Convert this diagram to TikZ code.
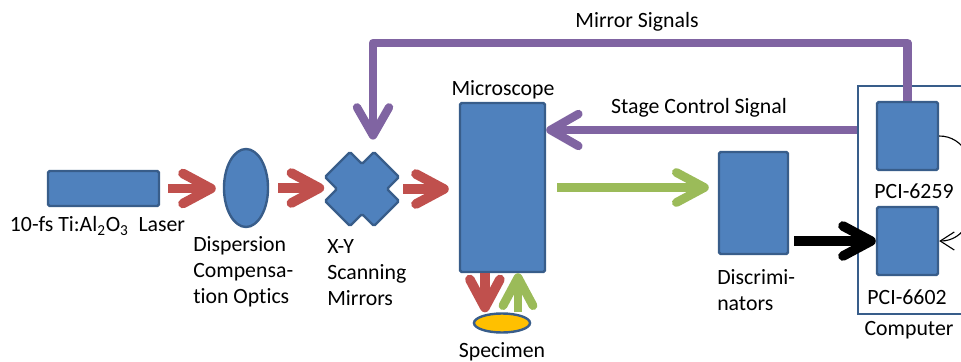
\documentclass[tikz,border=0pt]{standalone}
\usepackage{fontspec}
\setmainfont[Ligatures=NoCommon]{Carlito}
\usepackage{tikz}
\usetikzlibrary{arrows.meta,shapes.geometric}

\definecolor{boxblue}{HTML}{4F81BD}
\definecolor{edgeblue}{HTML}{385D8A}
\definecolor{beamred}{HTML}{C0504D}
\definecolor{beamgreen}{HTML}{9BBB59}
\definecolor{sigpurple}{HTML}{8064A2}
\definecolor{specyellow}{HTML}{FFC000}

\begin{document}
\begin{tikzpicture}[x=0.025cm,y=-0.025cm,
	txt/.style={font=\fontsize{15.5}{18.5}\selectfont, inner sep=0pt},
	unit/.style={draw=edgeblue, fill=boxblue, line width=0.6mm, rounded corners=0.4mm, inner sep=0pt},
	beam/.style={line width=2.4mm, -{Straight Barb[length=7mm,width=7.5mm,round]}},
	sig/.style={color=sigpurple, line width=2.1mm, line join=round, -{Straight Barb[length=7mm,width=8mm,round]}}]

	\useasboundingbox (0,0) rectangle (961,362);
	\clip (0,0) rectangle (961,362);

	% optics
	\node[unit, minimum width=2.775cm, minimum height=0.875cm] (laser) at (103.5,188.5) {};
	\node[unit, ellipse, minimum width=1.1cm, minimum height=1.95cm] (lens) at (246,188) {};
	\node[minimum width=1.875cm, minimum height=1.875cm, inner sep=0pt] (mirrors) at (362,189) {};
	\draw[unit, shift={(mirrors)}] (0,-25) -- (12,-37) -- (37,-12) -- (25,0) -- (37,12) -- (12,37) -- (0,25) -- (-12,37) -- (-37,12) -- (-25,0) -- (-37,-12) -- (-12,-37) -- cycle;
	\node[unit, minimum width=2.125cm, minimum height=4.225cm] (scope) at (502.5,187.5) {};
	\node[unit, ellipse, fill=specyellow, minimum width=1.4cm, minimum height=0.475cm] (specimen) at (502,323) {};

	% electronics
	\node[unit, minimum width=1.725cm, minimum height=2.55cm] (disc) at (753.5,203) {};
	\node[draw=edgeblue, line width=0.6mm, minimum width=2.925cm, minimum height=5.7cm] (computer) at (916.5,200) {};
	\node[unit, minimum width=1.525cm, minimum height=1.7cm] (pcia) at (907.5,136) {};
	\node[unit, minimum width=1.525cm, minimum height=1.7cm] (pcib) at (907.5,241) {};

	\coordinate (mbend) at (373,43);
	\coordinate (stagey) at (0,130);

	% labels
	\node[txt] (laserlbl) at (97.5,226) {10-fs Ti:Al\textsubscript{2}O\textsubscript{3}\ \ Laser};
	\node[txt, align=left, anchor=west] (lenslbl) at (193,272) {Dispersion\\Compensa-\\tion Optics};
	\node[txt, align=left, anchor=west] (mirlbl) at (327,273) {X-Y\\Scanning\\Mirrors};
	\node[txt] (scopelbl) at (503,90) {Microscope};
	\node[txt] (speclbl) at (502,352) {Specimen};
	\node[txt, align=left, anchor=west] (disclbl) at (717,290) {Discrimi-\\nators};
	\node[txt] (pcialbl) at (914,191) {PCI-6259};
	\node[txt] (pciblbl) at (907,297) {PCI-6602};
	\node[txt] (complbl) at (909,330) {Computer};
	\node[txt] (mirsig) at (637,22) {Mirror Signals};
	\node[txt] (stagesig) at (699,108) {Stage Control Signal};

	% beams
	\draw[beam, beamred, shorten <=0.2cm, shorten >=0.175cm] (laser.east) -- (laser.east -| lens.west);
	\draw[beam, beamred, shorten <=0.225cm] (lens.east) -- (lens.east -| mirrors.west);
	\draw[beam, beamred, shorten <=0.09cm, shorten >=0.25cm] (mirrors.east) -- (mirrors.east -| scope.west);
	\draw[beam, beamgreen, line width=2.2mm, shorten <=0.275cm, shorten >=0.225cm] (scope.east) -- (scope.east -| disc.west);
	\draw[beam, beamred] ([xshift=-0.44cm]scope.south) -- ([xshift=-0.44cm]scope.south |- specimen.north);
	\draw[beam, beamgreen, line width=2.2mm] ([xshift=0.4cm]specimen.north) -- ([xshift=0.4cm]specimen.north |- scope.south);

	% signals
	\draw[sig, shorten >=0.29cm] (pcia.north) |- (mbend) -- (mbend |- mirrors.north);
	\draw[sig] (computer.west |- stagey) -- (stagey -| scope.east);
	\draw[beam, black, shorten <=0.125cm] (disc.east |- pcib) -- (pcib.west);
	\draw[line width=0.8pt, -{Straight Barb[length=3.5mm,width=4.5mm]}] (pcia.east) to[out=0, in=0, looseness=1.2] (pcib.east);

\end{tikzpicture}
\end{document}
